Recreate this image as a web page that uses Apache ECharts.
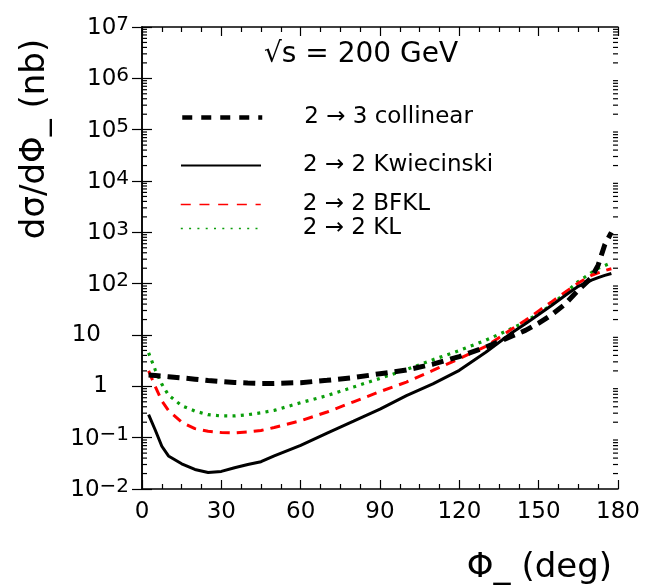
<!DOCTYPE html>
<html>
<head>
<meta charset="utf-8">
<script src="https://cdn.jsdelivr.net/npm/echarts@6/dist/echarts.min.js"></script>
<style>
html,body{margin:0;padding:0;background:#fff;}
#chart{width:647px;height:588px;}
</style>
</head>
<body>
<div id="chart"></div>
<script>
// phi_- (deg)
const phi = [2.5, 5, 7.5, 10, 15, 20, 25, 30, 35, 40, 45, 50, 60, 70, 80, 90, 100, 110, 120, 130, 140, 145, 150, 155, 160, 165, 170, 172.5, 175, 177.5];
// dsigma/dphi_- (nb)
const collinear = [1.66, 1.62, 1.58, 1.54, 1.46, 1.38, 1.30, 1.24, 1.19, 1.16, 1.14, 1.14, 1.18, 1.31, 1.48, 1.76, 2.08, 2.7, 3.8, 5.8, 9.6, 12.3, 17, 25, 40, 75, 132, 230, 575, 1000];
const kwiecinski = [0.28, 0.141, 0.068, 0.044, 0.031, 0.024, 0.021, 0.022, 0.026, 0.030, 0.034, 0.044, 0.071, 0.123, 0.21, 0.36, 0.66, 1.12, 2.05, 4.6, 11.2, 16.5, 25, 38, 59, 89, 117, 131, 145, 158];
const bfkl = [2.0, 1.0, 0.52, 0.34, 0.20, 0.15, 0.133, 0.126, 0.124, 0.129, 0.138, 0.158, 0.214, 0.316, 0.50, 0.79, 1.21, 2.04, 3.46, 6.0, 13.2, 19.3, 29.5, 44.7, 68, 103, 146, 162, 180, 195];
const kl = [4.5, 2.1, 1.1, 0.68, 0.42, 0.33, 0.28, 0.265, 0.265, 0.28, 0.305, 0.34, 0.48, 0.66, 0.97, 1.43, 2.12, 3.3, 5.0, 7.9, 13.5, 18.2, 26.3, 39, 66, 110, 165, 200, 225, 255];
const xTicks = [0, 30, 60, 90, 120, 150, 180];
const yMin = 1e-2, yMax = 1e7;
const names = ['2 \u2192 3 collinear', '2 \u2192 2 Kwiecinski', '2 \u2192 2 BFKL', '2 \u2192 2 KL'];

const FONT = 'DejaVu Sans';
const minorY = [];
for (let e = -2; e < 7; e++) for (let k = 2; k <= 9; k++) minorY.push(k * Math.pow(10, e));

const pairs = arr => phi.map((x, i) => [x, arr[i]]);

function yLabel(v) {
  const e = Math.round(Math.log10(v));
  if (e === 1) return '{p10|10}';
  if (e === 0) return '{p1|1}';
  return '{b|10}{s|' + (e < 0 ? '\u2212' + (-e) : e) + '}';
}

const xAxisBase = {
  type: 'value', min: xTicks[0], max: xTicks[xTicks.length - 1], interval: 30,
  axisLine: { show: true, lineStyle: { color: '#000', width: 1.5 } },
  axisTick: { show: true, inside: true, length: 9, lineStyle: { color: '#000', width: 1.2 } },
  minorTick: { show: true, splitNumber: 4, length: 5, lineStyle: { color: '#000', width: 1.2 } },
  splitLine: { show: false }, minorSplitLine: { show: false }
};
const yAxisBase = {
  type: 'log', logBase: 10, min: yMin, max: yMax, splitNumber: 9,
  axisLine: { show: true, lineStyle: { color: '#000', width: 1.5 } },
  axisTick: { show: true, inside: true, length: 10, lineStyle: { color: '#000', width: 1.2 } },
  splitLine: { show: false }
};

function legendFor(i, top, ls) {
  return {
    data: [names[i]], left: 180, top: top, orient: 'vertical', padding: 0,
    itemWidth: 80, itemHeight: 14, selectedMode: false,
    lineStyle: ls,
    itemStyle: { opacity: 0, borderWidth: 0 },
    textStyle: { fontFamily: FONT, fontSize: 23, color: '#000', padding: [0, 0, 8, 37] }
  };
}

const chart = echarts.init(document.getElementById('chart'), null, { renderer: 'canvas' });
chart.setOption({
  animation: false,
  backgroundColor: '#fff',
  grid: { left: 142, right: 29, top: 27, bottom: 99, containLabel: false },
  xAxis: [
    Object.assign({}, xAxisBase, { position: 'bottom',
      axisLabel: { fontFamily: FONT, fontSize: 23, color: '#000', margin: 12 } }),
    Object.assign({}, xAxisBase, { position: 'top', axisLabel: { show: false } })
  ],
  yAxis: [
    Object.assign({}, yAxisBase, { position: 'left',
      axisLabel: {
        margin: 13, formatter: yLabel, color: '#000',
        rich: {
          b: { fontFamily: FONT, fontSize: 23, lineHeight: 25, verticalAlign: 'bottom', color: '#000' },
          s: { fontFamily: FONT, fontSize: 20, lineHeight: 20, verticalAlign: 'top', padding: [0, 0, 14, 0], color: '#000' },
          p10: { fontFamily: FONT, fontSize: 23, color: '#000', padding: [0, 28, 0, 0] },
          p1: { fontFamily: FONT, fontSize: 23, color: '#000', padding: [0, 21, 0, 0] }
        }
      } }),
    Object.assign({}, yAxisBase, { position: 'right', axisLabel: { show: false } })
  ],
  legend: [
    legendFor(0, 106, { width: 4.5, type: [10, 9] }),
    legendFor(1, 154, { width: 2 }),
    legendFor(2, 193, { width: 1.5, type: [10, 8.7] }),
    legendFor(3, 217, { width: 1.6, type: [2, 6.3] })
  ],
  graphic: [
    { type: 'text', x: 361, y: 55, style: { text: '\u221As = 200 GeV', fontFamily: FONT, fontSize: 28, fill: '#000', align: 'center', verticalAlign: 'middle' } },
    { type: 'text', x: 35, y: 139, rotation: Math.PI / 2, style: { text: 'd\u03C3/d\u03A6_ (nb)', fontFamily: FONT, fontSize: 34, fill: '#000', align: 'center', verticalAlign: 'middle' } },
    { type: 'text', x: 612, y: 568, style: { text: '\u03A6_ (deg)', fontFamily: FONT, fontSize: 34, fill: '#000', align: 'right', verticalAlign: 'middle' } }
  ],
  series: [
    { type: 'custom', silent: true, xAxisIndex: 0, yAxisIndex: 0, data: minorY.map(v => [0, v]), clip: false,
      renderItem: function (params, api) {
        const y = api.coord([0, api.value(1)])[1];
        const cs = params.coordSys;
        const st = { stroke: '#000', lineWidth: 1.2 };
        return { type: 'group', children: [
          { type: 'line', shape: { x1: cs.x, y1: y, x2: cs.x + 5, y2: y }, style: st },
          { type: 'line', shape: { x1: cs.x + cs.width - 5, y1: y, x2: cs.x + cs.width, y2: y }, style: st }
        ] };
      } },
    { name: names[3], type: 'line', data: pairs(kl), symbol: 'none', silent: true,
      lineStyle: { color: '#0a9e0a', width: 3.2, type: [3, 5.3] }, itemStyle: { color: '#0a9e0a' } },
    { name: names[2], type: 'line', data: pairs(bfkl), symbol: 'none', silent: true,
      lineStyle: { color: '#ff0000', width: 3, type: [10, 7] }, itemStyle: { color: '#ff0000' } },
    { name: names[1], type: 'line', data: pairs(kwiecinski), symbol: 'none', silent: true,
      lineStyle: { color: '#000', width: 3, type: 'solid' }, itemStyle: { color: '#000' } },
    { name: names[0], type: 'line', data: pairs(collinear), symbol: 'none', silent: true,
      lineStyle: { color: '#000', width: 5, type: [12, 7] }, itemStyle: { color: '#000' } }
  ]
});
</script>
</body>
</html>
